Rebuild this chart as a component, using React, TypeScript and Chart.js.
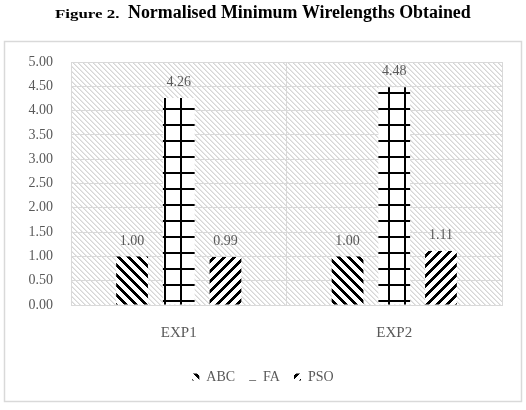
import { useEffect, useRef } from "react";
import { Chart, registerables } from "chart.js";

Chart.register(...registerables);

// Experiment groups and the normalised minimum wirelength of each algorithm
const categories = ["EXP1", "EXP2"];
const seriesNames = ["ABC", "FA", "PSO"];
const abcValues = [1.0, 1.0];
const faValues = [4.26, 4.48];
const psoValues = [0.99, 1.11];

const SERIF = '"Liberation Serif", "Times New Roman", serif';
const GREY_TEXT = "#595959";
const GRID = "#d9d9d9";

type Painter = (g: CanvasRenderingContext2D) => void;

function makePattern(ctx: CanvasRenderingContext2D, size: number, paint: Painter): CanvasPattern {
  const tile = document.createElement("canvas");
  tile.width = size;
  tile.height = size;
  const g = tile.getContext("2d")!;
  g.fillStyle = "#ffffff";
  g.fillRect(0, 0, size, size);
  paint(g);
  return ctx.createPattern(tile, "repeat")!;
}

// wide downward diagonal stripes
const downDiagonal: Painter = (g) => {
  g.fillStyle = "#000000";
  for (let y = 0; y < 10; y++) for (let k = 0; k < 4; k++) g.fillRect((y + k) % 10, y, 1, 1);
};

// wide upward diagonal stripes
const upDiagonal: Painter = (g) => {
  g.fillStyle = "#000000";
  for (let y = 0; y < 10; y++) for (let k = 0; k < 4; k++) g.fillRect((19 - y + k) % 10, y, 1, 1);
};

// large grid
const largeGrid: Painter = (g) => {
  g.fillStyle = "#000000";
  g.fillRect(4, 0, 2, 16);
  g.fillRect(0, 12, 16, 2);
};

// light hatch behind the plot
const lightHatch: Painter = (g) => {
  for (let y = 0; y < 5; y++) {
    g.fillStyle = "#d6d6d6";
    g.fillRect(y % 5, y, 1, 1);
    g.fillStyle = "#e8e8e8";
    g.fillRect((y + 1) % 5, y, 1, 1);
  }
};

export default function App() {
  const canvasRef = useRef<HTMLCanvasElement | null>(null);

  useEffect(() => {
    const canvas = canvasRef.current;
    if (!canvas) return;
    const ctx = canvas.getContext("2d")!;

    const abcFill = makePattern(ctx, 10, downDiagonal);
    const faFill = makePattern(ctx, 16, largeGrid);
    const psoFill = makePattern(ctx, 10, upDiagonal);
    const plotFill = makePattern(ctx, 5, lightHatch);

    const frameAndTitle = {
      id: "frameAndTitle",
      beforeDraw(chart: Chart) {
        const c = chart.ctx;
        const { left, top, right, bottom } = chart.chartArea;
        c.save();
        c.fillStyle = "#ffffff";
        c.fillRect(0, 0, chart.width, chart.height);
        c.strokeStyle = GRID;
        c.lineWidth = 1.5;
        c.strokeRect(4.5, 41.5, 517, 360);
        c.fillStyle = plotFill;
        c.fillRect(left, top, right - left, bottom - top);
        c.fillStyle = "#000000";
        c.textBaseline = "alphabetic";
        c.textAlign = "left";
        c.save();
        c.translate(55, 18);
        c.scale(1.25, 1);
        c.font = `bold 13.5px ${SERIF}`;
        c.fillText("Figure 2.", 0, 0);
        c.restore();
        c.font = `bold 17.9px ${SERIF}`;
        c.fillText("Normalised Minimum Wirelengths Obtained", 128, 18);
        c.restore();
      },
    };

    const valueLabels = {
      id: "valueLabels",
      afterDatasetsDraw(chart: Chart) {
        const c = chart.ctx;
        c.save();
        c.font = `14px ${SERIF}`;
        c.fillStyle = GREY_TEXT;
        c.textAlign = "center";
        c.textBaseline = "middle";
        chart.data.datasets.forEach((ds, i) => {
          const meta = chart.getDatasetMeta(i);
          meta.data.forEach((bar, j) => {
            const v = ds.data[j] as number;
            c.fillText(v.toFixed(2), bar.x, bar.y - 15.5);
          });
        });
        c.restore();
      },
    };

    const chart = new Chart(canvas, {
      type: "bar",
      data: {
        labels: categories,
        datasets: [
          { label: seriesNames[0], data: abcValues, backgroundColor: abcFill, borderWidth: 0 },
          { label: seriesNames[1], data: faValues, backgroundColor: faFill, borderWidth: 0 },
          { label: seriesNames[2], data: psoValues, backgroundColor: psoFill, borderWidth: 0 },
        ],
      },
      options: {
        responsive: false,
        animation: false,
        devicePixelRatio: 1,
        layout: { padding: { left: 24, right: 24, top: 62, bottom: 16 } },
        datasets: {
          bar: { categoryPercentage: 0.65, barPercentage: 0.68 },
        },
        scales: {
          x: {
            grid: { color: GRID, offset: true, drawTicks: false },
            border: { color: GRID },
            ticks: { color: GREY_TEXT, font: { family: SERIF, size: 15 }, padding: 19 },
            afterFit: (scale) => {
              scale.height = 51;
            },
          },
          y: {
            min: 0,
            max: 5,
            grid: { color: GRID, drawTicks: false },
            border: { color: GRID },
            ticks: {
              stepSize: 0.5,
              color: GREY_TEXT,
              font: { family: SERIF, size: 14 },
              padding: 18,
              callback: (v) => Number(v).toFixed(2),
            },
            afterFit: (scale) => {
              scale.width = 47;
            },
          },
        },
        plugins: {
          legend: {
            position: "bottom",
            labels: {
              boxWidth: 7,
              boxHeight: 7,
              padding: 14,
              color: GREY_TEXT,
              font: { family: SERIF, size: 14 },
            },
          },
          tooltip: { enabled: false },
        },
      },
      plugins: [frameAndTitle, valueLabels],
    });

    return () => chart.destroy();
  }, []);

  return (
    <canvas
      ref={canvasRef}
      width={526}
      height={410}
      style={{ position: "fixed", left: 0, top: 0, width: 526, height: 410 }}
    />
  );
}
